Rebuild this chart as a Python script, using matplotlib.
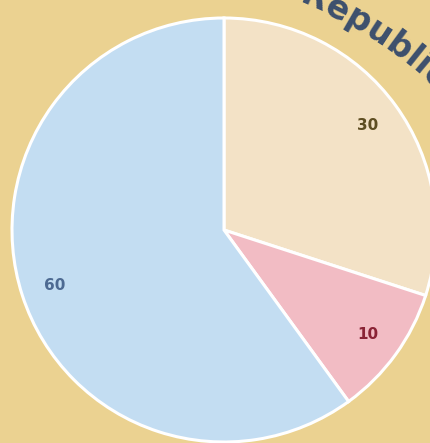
import numpy as np
import matplotlib
matplotlib.use("Agg")
import matplotlib.pyplot as plt
from matplotlib.font_manager import FontProperties, findfont
from matplotlib.ft2font import FT2Font

# data
categories = ["Democrat", "Independent", "Republican"]
values = [30, 10, 60]
slice_colors = ["#F3E2C6", "#F2BCC4", "#C3DDF2"]
label_colors = ["#5E4E22", "#8A2335", "#4D6A92"]
arc_title = "Republican"

bg = "#EBD291"
W, H, DPI = 430, 443, 100

fig = plt.figure(figsize=(W / DPI, H / DPI), dpi=DPI, facecolor=bg)
ax = fig.add_axes([0, 0, 1, 1])
ax.set_facecolor(bg)

cx, cy, r = 224, H - 230, 212
wedges, texts = ax.pie(values, labels=[str(v) for v in values],
                       colors=slice_colors, startangle=90, counterclock=False,
                       center=(cx, cy), radius=r, labeldistance=0.84,
                       wedgeprops=dict(edgecolor="white", linewidth=2.2),
                       textprops=dict(fontsize=11, fontweight="bold"))
for t, c in zip(texts, label_colors):
    t.set_color(c)
    t.set_ha("center")
    t.set_va("center")

# curved title along a wide arc, reading clockwise
fp = FontProperties(family="DejaVu Sans", weight="bold", size=24)
ft = FT2Font(findfont(fp))
ft.set_size(24, DPI)
adv = []
for ch in arc_title:
    g = ft.load_char(ord(ch))
    adv.append(g.linearHoriAdvance / 65536.0)
tcx, tcy, tr = 133, H - 410, 440
track = 0.0
# anchor: centre of the "e" sits at about 63 degrees on the arc
angles = [0.0] * len(arc_title)
angles[1] = np.radians(63)
angles[0] = angles[1] + ((adv[0] + adv[1]) / 2 + track) / tr
for i in range(2, len(arc_title)):
    angles[i] = angles[i - 1] - ((adv[i - 1] + adv[i]) / 2 + track) / tr
for ch, a in zip(arc_title, angles):
    x = tcx + tr * np.cos(a)
    y = tcy + tr * np.sin(a)
    ax.text(x, y, ch, fontproperties=fp, color="#3C4F6D",
            rotation=np.degrees(a) - 90, rotation_mode="anchor",
            ha="center", va="baseline", clip_on=False)

ax.set_xlim(0, W)
ax.set_ylim(0, H)
ax.set_aspect("auto")
ax.axis("off")

fig.savefig("out.png", dpi=DPI, facecolor=bg)
